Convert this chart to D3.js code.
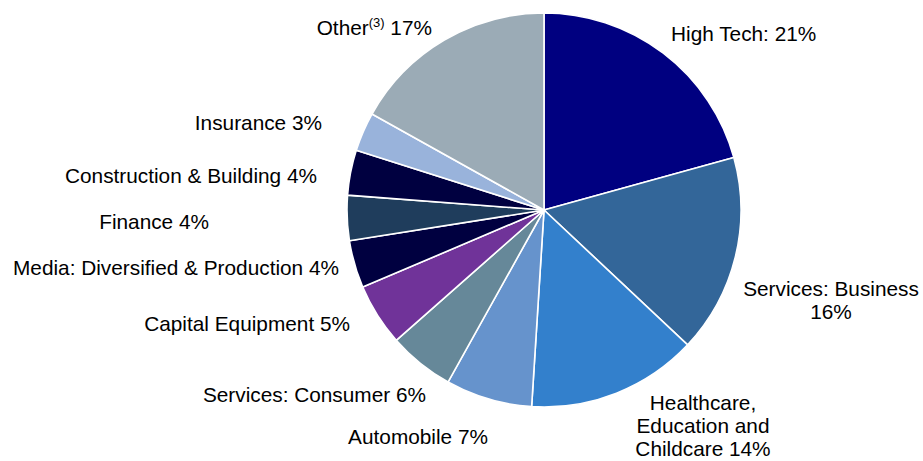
<!DOCTYPE html>
<html>
<head>
<meta charset="utf-8">
<script src="https://cdn.jsdelivr.net/npm/d3@7"></script>
<style>
  html, body { margin: 0; padding: 0; background: #fff; }
  svg { display: block; }
  text { font-family: "Liberation Sans", Arial, sans-serif; fill: #000; }
</style>
</head>
<body>
<svg id="chart" width="923" height="461"></svg>
<script>
// ---- data ----
const categories = ["High Tech", "Services: Business", "Healthcare, Education and Childcare",
  "Automobile", "Services: Consumer", "Capital Equipment", "Media: Diversified & Production",
  "Finance", "Construction & Building", "Insurance", "Other"];
const shares = [20.7, 16.3, 14.0, 7.1, 5.4, 5.1, 3.9, 3.7, 3.7, 3.2, 16.9];
const shareLabels = ["21%", "16%", "14%", "7%", "6%", "5%", "4%", "4%", "4%", "3%", "17%"];
const colors = ["#000080", "#336699", "#3380CC", "#6693CC", "#668899", "#703399",
  "#000040", "#1F3D5C", "#000040", "#99B3DB", "#9BABB6"];

// ---- layout ----
const W = 923, H = 461;
const cx = 544, cy = 210, R = 197;
const fontSize = 20.8;

// label layout: lines, anchor, x, baseline y of first line
const labelLayout = [
  { lines: ["High Tech: 21%"], anchor: "start", x: 671, y: 41 },
  { lines: ["Services: Business", "16%"], anchor: "middle", x: 831, y: 296 },
  { lines: ["Healthcare,", "Education and", "Childcare 14%"], anchor: "middle", x: 703, y: 410 },
  { lines: ["Automobile 7%"], anchor: "end", x: 488, y: 444 },
  { lines: ["Services: Consumer 6%"], anchor: "end", x: 426, y: 402 },
  { lines: ["Capital Equipment 5%"], anchor: "end", x: 350, y: 331 },
  { lines: ["Media: Diversified & Production 4%"], anchor: "end", x: 339, y: 275 },
  { lines: ["Finance 4%"], anchor: "end", x: 209, y: 229 },
  { lines: ["Construction & Building 4%"], anchor: "end", x: 317, y: 183 },
  { lines: ["Insurance 3%"], anchor: "end", x: 322, y: 130 },
  { sup: true, anchor: "end", x: 432, y: 35 }
];
const lineH = 23.2;

const svg = d3.select("#chart");
const data = categories.map((c, i) => ({ cat: c, value: shares[i], color: colors[i], label: shareLabels[i] }));

const pie = d3.pie().sort(null).value(d => d.value);
const arc = d3.arc().innerRadius(0).outerRadius(R);

const g = svg.append("g").attr("transform", `translate(${cx},${cy})`);
g.selectAll("path")
  .data(pie(data))
  .join("path")
  .attr("d", arc)
  .attr("fill", d => d.data.color)
  .attr("stroke", "#fff")
  .attr("stroke-width", 1.6)
  .attr("stroke-linejoin", "round");

// labels
const lg = svg.append("g").attr("font-size", fontSize);
labelLayout.forEach((L, i) => {
  const t = lg.append("text")
    .attr("x", L.x).attr("y", L.y)
    .attr("text-anchor", L.anchor);
  if (L.sup) {
    t.append("tspan").text("Other");
    t.append("tspan").attr("font-size", 13).attr("dy", -8).text("(3)");
    t.append("tspan").attr("dy", 8).text(" " + shareLabels[i]);
  } else {
    L.lines.forEach((ln, j) => {
      t.append("tspan").attr("x", L.x).attr("dy", j === 0 ? 0 : lineH).text(ln);
    });
  }
});
</script>
</body>
</html>
